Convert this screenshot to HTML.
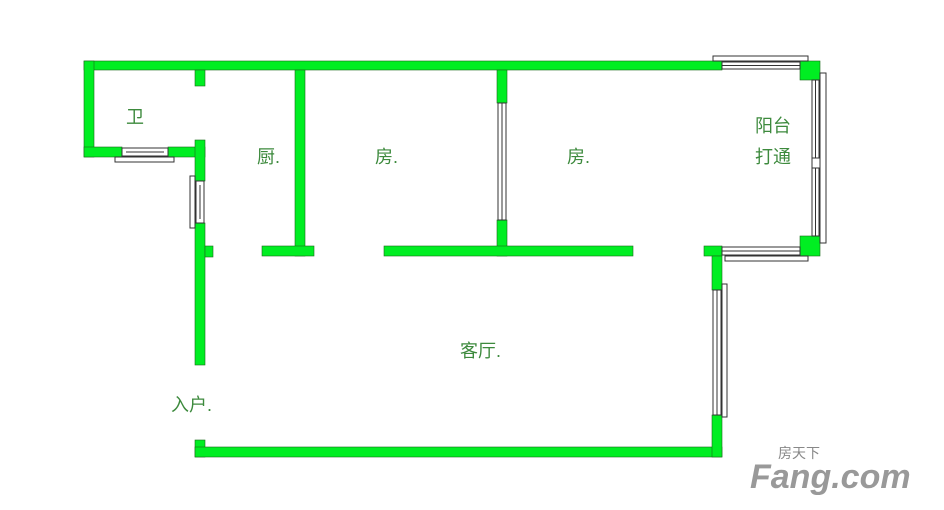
<!DOCTYPE html>
<html><head><meta charset="utf-8"><style>
body{margin:0;background:#fff;}
svg{display:block}
text{font-family:"Liberation Sans","Noto Sans CJK SC",sans-serif;fill:#3d8a3d;font-size:18px}
</style></head><body>
<svg width="944" height="510" viewBox="0 0 944 510" xmlns="http://www.w3.org/2000/svg">
<g fill="#00ee22" stroke="#1a6a1a" stroke-width="0.6">
<!-- top wall -->
<rect x="84" y="61" width="638" height="9"/>
<rect x="800" y="61" width="20" height="19"/>
<!-- toilet -->
<rect x="84" y="61" width="10" height="96"/>
<rect x="84" y="147" width="38" height="10"/>
<rect x="168" y="147" width="37" height="10"/>
<rect x="195" y="140" width="10" height="41"/>
<rect x="195" y="70" width="10" height="16"/>
<!-- left wall -->
<rect x="195" y="223" width="10" height="142"/>
<rect x="205" y="246" width="8" height="11"/>
<rect x="195" y="440" width="10" height="17"/>
<!-- bottom -->
<rect x="195" y="447" width="527" height="10"/>
<!-- kitchen wall -->
<rect x="295" y="70" width="10" height="186"/>
<rect x="262" y="246" width="52" height="10"/>
<!-- room divider -->
<rect x="497" y="70" width="10" height="33"/>
<rect x="497" y="220" width="10" height="36"/>
<rect x="384" y="246" width="249" height="10"/>
<!-- balcony -->
<rect x="704" y="246" width="18" height="10"/>
<rect x="800" y="236" width="20" height="20"/>
<rect x="712" y="256" width="10" height="34"/>
<rect x="712" y="415" width="10" height="42"/>
</g>
<g fill="#fff" stroke="#333" stroke-width="1">
<!-- top balcony window -->
<rect x="713" y="56" width="95" height="5"/>
<rect x="722" y="62" width="78" height="7"/>
<line x1="722" y1="65.5" x2="800" y2="65.5"/>
<!-- right balcony window -->
<rect x="820" y="73" width="6" height="170"/>
<rect x="812" y="80" width="7" height="156"/>
<line x1="815.5" y1="80" x2="815.5" y2="236"/>
<rect x="812" y="158" width="8" height="10"/>
<!-- bottom balcony window -->
<rect x="722" y="247" width="78" height="8"/>
<line x1="722" y1="251" x2="800" y2="251"/>
<rect x="725" y="256" width="83" height="5"/>
<!-- toilet window -->
<rect x="122" y="148" width="46" height="8"/>
<line x1="126" y1="152" x2="164" y2="152"/>
<rect x="115" y="157" width="59" height="5"/>
<!-- left window -->
<rect x="196" y="181" width="8" height="42"/>
<line x1="200" y1="185" x2="200" y2="219"/>
<rect x="190" y="176" width="5" height="52"/>
<!-- room divider window -->
<rect x="498" y="103" width="8" height="117"/>
<line x1="502" y1="103" x2="502" y2="220"/>
<!-- living right window -->
<rect x="713" y="290" width="8" height="125"/>
<line x1="717" y1="290" x2="717" y2="415"/>
<rect x="722" y="284" width="5" height="133"/>
</g>
<text x="126" y="123">卫</text>
<text x="257" y="163">厨.</text>
<text x="375" y="163">房.</text>
<text x="567" y="163">房.</text>
<text x="755" y="132">阳台</text>
<text x="755" y="163">打通</text>
<text x="460" y="357">客厅.</text>
<text x="171" y="411">入户.</text>
<text x="778" y="458" style="font-size:14px;fill:#888">房天下</text>
<text x="750" y="488" style="font-size:34px;fill:#999;font-weight:bold;font-style:italic">Fang.com</text>
</svg>
</body></html>
